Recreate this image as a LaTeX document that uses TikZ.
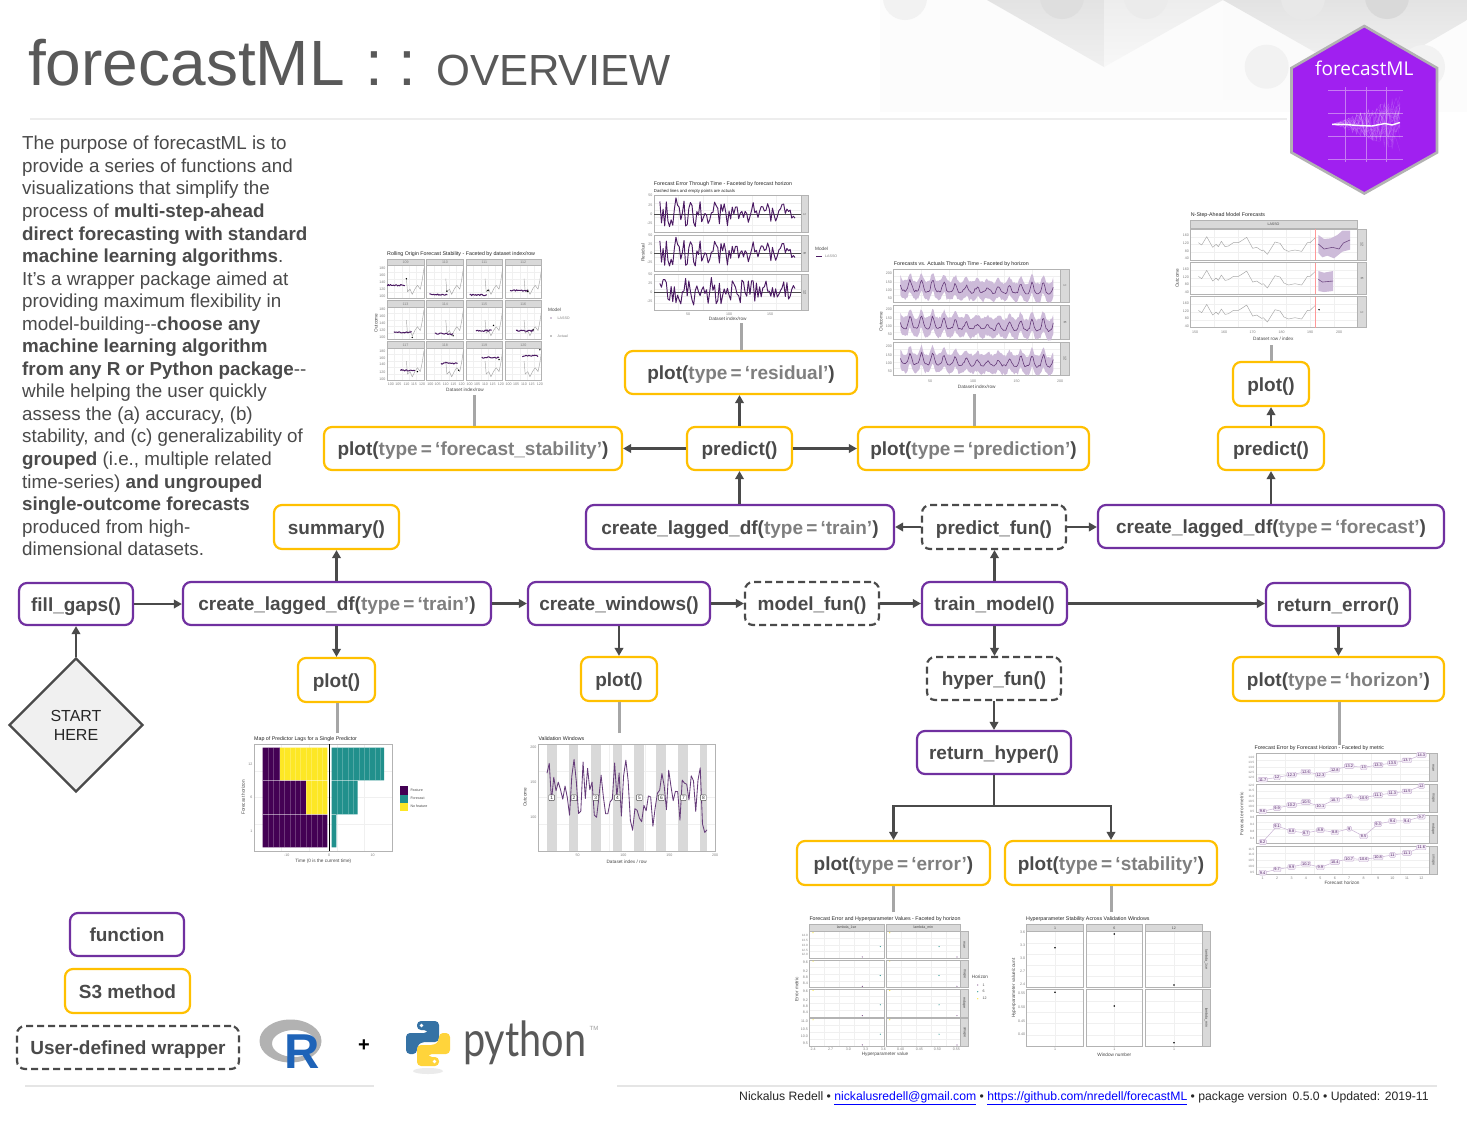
\documentclass[tikz,border=0pt]{standalone}
\usepackage{fontspec}
\setmainfont{Liberation Sans}
\newfontfamily\logofont{Open Sans}
\newfontfamily\pyfont{Lato}
\usetikzlibrary{arrows.meta,calc,shapes.geometric}
\definecolor{dark}{HTML}{4A4A4A}
\definecolor{titlec}{HTML}{595959}
\definecolor{midg}{HTML}{7F7F7F}
\definecolor{fnc}{HTML}{7030A0}
\definecolor{sthree}{HTML}{FFC000}
\definecolor{plum}{HTML}{4B1A63}
\definecolor{teal2}{HTML}{21908C}
\definecolor{vir}{HTML}{440154}
\definecolor{yel}{HTML}{FDE725}
\definecolor{stripc}{HTML}{D9D9D9}
\definecolor{bord}{HTML}{B3B3B3}
\definecolor{grdc}{HTML}{F0F0F0}
\definecolor{rib}{HTML}{CDBBD9}
\definecolor{hexc}{HTML}{A020F0}
\definecolor{hexg}{HTML}{C77CF2}
\definecolor{rblue}{HTML}{1E63B8}
\definecolor{pyblue}{HTML}{3572A5}
\definecolor{pyyel}{HTML}{FFD43B}
\definecolor{lilacb}{HTML}{C9B3D4}
\definecolor{lilacf}{HTML}{F3ECF6}
\newcounter{txc}
\newcommand{\tx}[4][]{\stepcounter{txc}\node[txt,#1] (tx\arabic{txc}) at ({#2},{#3}) {#4};}
\newcommand{\pnl}[6]{%
  \fill[white] (#1,#2) rectangle (#3,#4);
  \pgfmathsetmacro\pw{#3-#1}\pgfmathsetmacro\ph{#4-#2}
  \foreach \g in {1,...,#5}{\draw[grd] ({#1+\pw*\g/(#5+1)},#2) -- ({#1+\pw*\g/(#5+1)},#4);}
  \foreach \g in {1,...,#6}{\draw[grd] (#1,{#2+\ph*\g/(#6+1)}) -- (#3,{#2+\ph*\g/(#6+1)});}
  \draw[pb] (#1,#2) rectangle (#3,#4);}
\newcommand{\strp}[4]{\filldraw[fill=stripc,draw=bord,line width=.8pt] (#1,#2) rectangle (#3,#4);}
\newcommand{\inp}[5]{\pgfmathsetmacro\pw{#3-#1}\pgfmathsetmacro\ph{#4-#2}%
  \begin{scope}[shift={(#1,#2)},x=\pw pt,y=-\ph pt]#5\end{scope}}
\newcommand{\bbox}[7]{\node[#1,minimum width={(#5-#3)*1pt},minimum height={(#6-#4)*1pt}] (#2) at ({(#3+#5)/2},{(#4+#6)/2}) {#7};}
\newcommand{\gr}[1]{\textcolor{midg}{#1}}
\newcommand{\fsp}[8]{% x0, ystrip, label, a, b, level, dotx, doty
  \pgfmathsetmacro\xe{#1+36.7}\pgfmathsetmacro\ys{#2+6.4}\pgfmathsetmacro\yb{#2+39}
  \strp{#1}{#2}{\xe}{\ys}
  \tx[tck]{#1+18.3}{#2+3.2}{#3}
  \pnl{#1}{\ys}{\xe}{\yb}{4}{4}
  \inp{#1}{\ys}{\xe}{\yb}{%
    \draw[gline] plot coordinates {(.52,.4)(.55,.8)(.62,.72)(.68,.88)(.75,.72)(.82,.6)(.9,.72)(.95,.45)(1,.08)};
    \draw[plum,line width=1pt,line join=round] plot[domain=#4:#5,samples=18] (\x,{#6+.05*(rnd-.5)});
    \fill[black] (#7,#8) circle[radius=.8pt];}
}
\newcommand{\hzrow}[2]{%
  \foreach \v/\zy [count=\i,remember=\zy as \lz (initially 0)] in {#2}{%
    \ifnum\i>1 \draw[lilac] ({1230+(98+(\i-2)*43.27)/3},{740+\lz/3}) -- ({1230+(98+(\i-1)*43.27)/3},{740+\zy/3}); \fi}
  \foreach \v/\zy [count=\i] in {#2}{%
    \tx[hzl]{1230+(98+(\i-1)*43.27)/3}{740+\zy/3}{\v}}
}
\tikzset{
  txt/.style={inner sep=0pt,text=dark,font=\fontsize{4.6}{5.5}\selectfont},
  ttl/.style={anchor=west,text=black!85,font=\fontsize{5.3}{6}\selectfont},
  tck/.style={text=midg,font=\fontsize{3.6}{4.2}\selectfont},
  lab/.style={text=dark,font=\fontsize{4.7}{5.5}\selectfont},
  hzl/.style={draw=lilacb,fill=lilacf,rounded corners=1pt,inner xsep=1pt,inner ysep=1pt,text=plum,font=\fontsize{3.9}{4.5}\selectfont},
  grd/.style={draw=grdc,line width=.35pt},
  pb/.style={draw=bord,line width=.9pt},
  gline/.style={draw=black!35,line width=.45pt,line join=round},
  wig/.style={draw=plum,line width=.95pt,line join=round},
  lilac/.style={draw=lilacb,line width=.5pt},
  base/.style={rounded corners=8pt,draw,line width=2.2pt,fill=white,inner sep=0pt,text=dark,text height=17pt,text depth=3pt,font=\bfseries\fontsize{19}{23}\selectfont},
  fnbox/.style={base,draw=fnc},
  sbox/.style={base,draw=sthree},
  ubox/.style={base,draw=dark,dash pattern=on 7pt off 4pt},
  conn/.style={draw=dark,line width=2.6pt,-{Triangle[length=8pt,width=8.5pt]}},
  plainconn/.style={draw=dark,line width=2.6pt},
  gconn/.style={draw=black!35,line width=3pt},
}
\begin{document}
\begin{tikzpicture}[x=1pt,y=-1pt,declare function={sz(\t)=sin(\t*2700)*sin(\t*2700);}]
\useasboundingbox (0,0) rectangle (1467,1133);
\fill[white] (0,0) rectangle (1467,1133);
% ---------- background
\begin{scope}
\clip (0,0) rectangle (1467,1133);
\fill[black!1] (880,0) rectangle (1467,112);
\fill[black!1.5] (1223,0) rectangle (1320,100);
\shade[top color=black!11,bottom color=black!6] (987,0) -- (1104,67) -- (1104,0) -- cycle;
\shade[top color=black!7,bottom color=black!3] (1104,0) -- (1104,67) -- (1223,0) -- cycle;
\shade[top color=black!11,bottom color=black!4] (1223,0) -- (1364,80) -- (1467,20) -- (1467,0) -- cycle;
\fill[black!5] (905,-2) circle[radius=22];
\fill[black!13] (1062,-3) circle[radius=22];
\fill[black!8] (1146,-3) circle[radius=22];
\fill[black!5] (1266.7,66.7) circle[radius=22];
\fill[black!9] (1303,-2) circle[radius=22];
\fill[black!15] (1387,-3) circle[radius=22];
\fill[black!5] (1423,67) circle[radius=22];
\end{scope}
\draw[black!7,line width=2.5pt] (30,119) -- (1287,119);
\draw[black!10,line width=1.2pt] (25,1086) -- (374,1086);
\draw[black!10,line width=1.2pt] (617,1086) -- (1437,1086);
% ---------- title
\node[anchor=base west,inner sep=0pt,text=titlec,font=\fontsize{64}{70}\selectfont] (ttlA) at (28,85) {forecastML};
\node[anchor=base west,inner sep=0pt,text=titlec,font=\fontsize{64}{70}\selectfont] (ttlB) at (365,85) {:};
\node[anchor=base west,inner sep=0pt,text=titlec,font=\fontsize{64}{70}\selectfont] (ttlC) at (398,85) {:};
\node[anchor=base west,inner sep=0pt,text=titlec,font=\fontsize{43.6}{50}\selectfont] (ttlD) at (436,85) {OVERVIEW};
% ---------- intro
\node[anchor=north west,align=left,inner sep=0pt,text=dark,font=\fontsize{18.8}{22.55}\selectfont] (intro) at (22,136) {%
The purpose of forecastML is to\\
provide a series of functions and\\
visualizations that simplify the\\
process of \textbf{multi-step-ahead}\\
\textbf{direct forecasting with standard}\\
\textbf{machine learning algorithms}.\\
It's a wrapper package aimed at\\
providing maximum flexibility in\\
model-building-{}-\textbf{choose any}\\
\textbf{machine learning algorithm}\\
\textbf{from any R or Python package}-{}-\\
while helping the user quickly\\
assess the (a) accuracy, (b)\\
stability, and (c) generalizability of\\
\textbf{grouped} (i.e., multiple related\\
time-series) \textbf{and ungrouped}\\
\textbf{single-outcome forecasts}\\
produced from high-\\
dimensional datasets.};
% ---------- hex logo
\filldraw[fill=hexc,draw=black!30,line width=2.6pt] (1364.3,26) -- (1437,68) -- (1437,152.5) -- (1364.3,193.5) -- (1291.5,152.5) -- (1291.5,68) -- cycle;
\foreach \yy in {90,113.3,136,159}{\draw[hexg,line width=.7pt] (1328,\yy) -- (1403,\yy);}
\foreach \xx in {1345.7,1366,1386.7}{\draw[hexg,line width=.7pt] (\xx,87) -- (\xx,161.7);}
\pgfmathsetseed{11}
\foreach \i in {1,...,24}{\draw[white,opacity=.16,line width=.3pt] plot[domain=1333:1400,samples=18] (\x,{124.3+(\x-1333)*.85*(rnd-.5)});}
\draw[white,line width=1.4pt,line join=round] plot coordinates {(1332,124.3)(1345,124.5)(1358,125.5)(1372,126)(1385,123.5)(1392,125)(1400,122.5)};
\node[inner sep=0pt,text=white,font=\logofont\fontsize{19}{23}\selectfont] (hexname) at (1364.3,68) {forecastML};
% ---------- chart: forecast stability
\tx[ttl]{387}{254.5}{Rolling Origin Forecast Stability - Faceted by dataset index/row}
\pgfmathsetseed{5}
\fsp{387.3}{259.3}{109}{0}{.48}{.6}{.52}{.4}
\fsp{426.7}{259.3}{110}{.07}{.56}{.88}{.55}{.78}
\fsp{466}{259.3}{111}{.1}{.57}{.9}{.6}{.76}
\fsp{505}{259.3}{112}{.14}{.63}{.76}{.62}{.79}
\fsp{387.3}{300.7}{113}{.18}{.66}{.77}{.68}{.93}
\fsp{426.7}{300.7}{114}{.22}{.72}{.82}{.72}{.88}
\fsp{466}{300.7}{115}{.27}{.7}{.72}{.75}{.56}
\fsp{505}{300.7}{116}{.3}{.77}{.72}{.77}{.7}
\fsp{387.3}{341.7}{117}{.36}{.75}{.68}{.82}{.72}
\fsp{426.7}{341.7}{118}{.39}{.84}{.47}{.87}{.68}
\fsp{466}{341.7}{119}{.43}{.9}{.29}{.9}{.35}
\fsp{505}{341.7}{120}{.47}{.9}{.24}{.95}{.05}
\foreach \yt in {265.7,306.7,348.3}{\foreach \v/\f in {180/.08,160/.3,140/.5,120/.72,100/.95}{\tx[tck,anchor=east]{385.5}{\yt+\f*32.6}{\v}}}
\foreach \cx in {387.3,426.7,466,505}{\foreach \v/\f in {100/.1,105/.3,110/.52,115/.73,120/.95}{\tx[tck]{\cx+\f*36.7}{384.5}{\v}}}
\tx[lab]{465}{389.5}{Dataset index/row}
\tx[lab,rotate=90]{376}{323}{Outcome}
\tx[lab,anchor=west]{548}{310}{Model}
\fill[plum] (551,318) circle[radius=.7pt];
\tx[tck,anchor=west]{557.5}{318}{LASSO}
\fill[black] (551,336) circle[radius=.7pt];
\tx[tck,anchor=west]{557.5}{336}{Actual}
% ---------- chart: residual
\tx[ttl]{653.7}{184.3}{Forecast Error Through Time - Faceted by forecast horizon}
\tx[ttl,font=\fontsize{4.3}{5}\selectfont]{653.7}{191}{Dashed lines and empty points are actuals}
\foreach \ya/\yb/\lb/\sd in {195.7/232.3/1/21,235/271.7/6/21,274/310.7/12/22}{
  \strp{801}{\ya}{808.7}{\yb}
  \pnl{654}{\ya}{801}{\yb}{5}{4}
  \tx[tck,rotate=-90,text=dark]{804.8}{(\ya+\yb)/2}{\lb}
  \foreach \v/\f in {50/.0,25/.25,0/.5,-25/.75}{\tx[tck,anchor=east]{652.5}{\ya+\f*36.7}{\v}}
  \pgfmathsetseed{\sd}
  \inp{654}{\ya}{801}{\yb}{%
    \draw[black!70,line width=.4pt] (0,.5) -- (1,.5);
    \draw[wig] plot[domain=.04:.96,samples=85] (\x,{.47+(.95-.5*\x)*(rnd-.5)});}
}
\foreach \v/\xx in {50/688,100/729,150/770}{\tx[tck]{\xx}{314}{\v}}
\tx[lab]{727.7}{319.3}{Dataset index/row}
\tx[lab,rotate=90]{643}{252.7}{Residual}
\tx[lab,anchor=west]{815}{249}{Model}
\draw[plum,line width=.8pt] (816,256.7) -- (821.7,256.7);
\tx[tck,anchor=west]{825}{256.7}{LASSO}
% ---------- chart: predictions
\tx[ttl]{893.7}{263.7}{Forecasts vs. Actuals Through Time - Faceted by horizon}
\foreach \ya/\yb/\lb/\sd in {269.3/302/1/31,305.3/339.3/6/32,342.3/375/12/33}{
  \strp{1060}{\ya}{1069.7}{\yb}
  \pnl{893.7}{\ya}{1060}{\yb}{5}{4}
  \tx[tck,rotate=-90,text=dark]{1065}{(\ya+\yb)/2}{\lb}
  \foreach \v/\f in {200/.13,150/.38,100/.63,50/.88}{\tx[tck,anchor=east]{892}{\ya+\f*33}{\v}}
  \pgfmathsetseed{\sd}
  \inp{893.7}{\ya}{1060}{\yb}{%
    \fill[rib] plot[domain=.04:.96,samples=130] (\x,{.3-.24*sz(\x)*sz(\x)*(.75+.35*sin(\x*4900))+.1*\x+.09*rnd}) -- plot[domain=.96:.04,samples=130] (\x,{.86-.24*sz(\x)*sz(\x)*(.75+.35*sin(\x*4900))+.1*\x+.09*rnd}) -- cycle;
    \draw[plum!85,line width=.6pt,line join=round] plot[domain=.04:.96,samples=130] (\x,{.62-.32*sz(\x)*sz(\x)*(.75+.35*sin(\x*4900))+.1*\x+.07*rnd});}
}
\foreach \v/\xx in {50/930,100/973,150/1016.7,200/1060}{\tx[tck]{\xx}{381.5}{\v}}
\tx[lab]{976.7}{386.7}{Dataset index/row}
\tx[lab,rotate=90]{881}{321.7}{Outcome}
% ---------- chart: n-step
\tx[ttl]{1190.7}{214.7}{N-Step-Ahead Model Forecasts}
\strp{1190.7}{220.7}{1357.7}{228.7}
\tx[tck,text=dark]{1273.5}{224.7}{LASSO}
\foreach \ya/\yb/\lb in {229/260.3/12,262.7/294/6,296.7/327.7/1}{
  \strp{1357.7}{\ya}{1366.3}{\yb}
  \pnl{1190.7}{\ya}{1357.7}{\yb}{6}{3}
  \tx[tck,rotate=-90,text=dark]{1362}{(\ya+\yb)/2}{\lb}
  \foreach \v/\f in {160/.2,120/.45,80/.7,40/.95}{\tx[tck,anchor=east]{1189}{\ya+\f*31.3}{\v}}
  \begin{scope}[shift={(1190.7,\ya)},x=.3333pt,y=-.3333pt]
    \draw[gline] plot coordinates {(23,41)(33,48)(48,23)(66,55)(76,46)(83,53)(92,37)(103,53)(113,51)(128,41)(143,41)(153,35)(168,25)(186,58)(198,55)(213,65)(218,63)(230,76)(253,39)(268,43)(280,61)(293,67)(313,63)(333,67)(350,41)(358,41)(375,25)};
  \end{scope}
  \draw[red!40,line width=1.3pt] (1315.7,\ya) -- (1315.7,\yb);
}
\begin{scope}[shift={(1190.7,229)},x=.3333pt,y=-.3333pt]
  \fill[rib] (383,18) -- (400,30) -- (420,28) -- (440,18) -- (455,5) -- (478,5) -- (478,62) -- (455,68) -- (430,88) -- (410,80) -- (395,85) -- (383,72) -- cycle;
  \draw[plum!80,line width=.6pt] (383,45) -- (400,60) -- (425,55) -- (445,60) -- (458,42) -- (478,33);
\end{scope}
\begin{scope}[shift={(1190.7,262.7)},x=.3333pt,y=-.3333pt]
  \fill[rib] (383,25) -- (400,30) -- (427,25) -- (427,85) -- (400,88) -- (383,85) -- cycle;
  \draw[plum!80,line width=.6pt] (383,50) -- (395,58) -- (427,55);
\end{scope}
\fill[black] (1319,309.7) circle[radius=.8pt];
\foreach \v/\xx in {150/1195,160/1224,170/1252.7,180/1281.7,190/1310,200/1339}{\tx[tck]{\xx}{332.5}{\v}}
\tx[lab]{1273.3}{338.7}{Dataset row / index}
\tx[lab,rotate=90]{1177.3}{278.3}{Outcome}
% ---------- chart: lag map
\tx[ttl]{254}{738.7}{Map of Predictor Lags for a Single Predictor}
\pnl{254}{744}{392.3}{851}{4}{3}
\fill[vir] (262.7,747.7) rectangle (280,780.3) (262.7,780.3) rectangle (306,814.3) (262.7,814.3) rectangle (327.3,847.3);
\fill[yel] (280,747.7) rectangle (327.3,780.3) (306,780.3) rectangle (327.3,814.3);
\fill[teal2] (331.7,747.7) rectangle (384,780.3) (331.7,780.3) rectangle (357.7,814.3) (331.7,814.3) rectangle (336.3,847.3);
\foreach \k in {1,...,11}{\draw[white,opacity=.22,line width=.3pt] ({262.7+5.4*\k},747.7) -- ({262.7+5.4*\k},847.3);}
\foreach \k in {1,...,9}{\draw[white,opacity=.22,line width=.3pt] ({331.7+5.4*\k},747.7) -- ({331.7+5.4*\k},{\k>4?780.3:814.3});}
\draw[white,opacity=.5,line width=.4pt] (262.7,780.3) -- (357.7,780.3) (262.7,814.3) -- (336.3,814.3);
\draw[black,line width=1.6pt] (329.3,744) -- (329.3,851);
\foreach \v/\yy in {12/764,6/797.3,1/831.3}{\tx[tck,anchor=east]{252.5}{\yy}{\v}}
\foreach \v/\xx in {-10/286.7,0/329,10/372.7}{\tx[tck]{\xx}{855.7}{\v}}
\tx[lab]{323.3}{861.7}{Time (0 is the current time)}
\tx[lab,rotate=90]{243.3}{797.3}{Forecast horizon}
\fill[vir] (400,786.3) rectangle (408.3,794.7);
\fill[teal2] (400,794.7) rectangle (408.3,802.7);
\fill[yel] (400,802.7) rectangle (408.3,810.7);
\tx[tck,anchor=west,text=dark]{410.3}{790.5}{Feature}
\tx[tck,anchor=west,text=dark]{410.3}{798.7}{Forecast}
\tx[tck,anchor=west,text=dark]{410.3}{806.7}{No feature}
% ---------- chart: validation windows
\tx[ttl]{538.3}{738.7}{Validation Windows}
\pnl{538.3}{744}{715.7}{851}{4}{3}
\foreach \a/\b in {950/980,1017/1045,1082/1112,1148/1176,1213/1243,1279/1308,1345/1373,1410/1431}{\fill[stripc] ({230+\a/3},744.5) rectangle ({230+\b/3},850.5);}
\pgfmathsetseed{71}
\draw[plum!85,line width=.85pt,line join=round] plot[domain=547:707,samples=72] (\x,{792+62*(rnd-.5)-28*rnd*rnd*sz((\x-547)/160)+18*(\x-547)/160});
\foreach \n/\a in {1/965,2/1032,3/1097,4/1162,5/1228,6/1294,7/1360,8/1420}{\tx[draw=black!70,fill=white,rounded corners=.8pt,inner xsep=1.6pt,inner ysep=1.2pt,text=black!85,font=\fontsize{4.8}{5.2}\selectfont]{230+\a/3}{797.7}{\n}}
\foreach \v/\yy in {200/747.7,150/782.7,100/817.7}{\tx[tck,anchor=east]{536.5}{\yy}{\v}}
\foreach \v/\xx in {50/577.7,100/623.3,150/669.3,200/715}{\tx[tck]{\xx}{855.7}{\v}}
\tx[lab]{626.7}{861.7}{Dataset index / row}
\tx[lab,rotate=90]{525}{797.3}{Outcome}
% ---------- chart: error vs hyper
\tx[ttl]{809.3}{919.3}{Forecast Error and Hyperparameter Values - Faceted by horizon}
\strp{809.3}{924.3}{884}{931}
\strp{886}{924.3}{960.7}{931}
\tx[tck,text=dark]{846.6}{927.8}{lambda\_1se}
\tx[tck,text=dark]{923.3}{927.8}{lambda\_min}
\foreach \ya/\yb/\lb in {931.7/958.3/mae,960/987.7/mape,989.3/1017/mdape,1018.7/1046.3/smape}{
  \strp{960.7}{\ya}{968}{\yb}
  \tx[tck,rotate=-90,text=dark]{964.4}{(\ya+\yb)/2}{\lb}
  \pnl{809.3}{\ya}{884}{\yb}{4}{3}
  \pnl{886}{\ya}{960.7}{\yb}{4}{3}
  \inp{809.3}{\ya}{884}{\yb}{%
    \fill[yel] (.05,.04) circle[radius=.6pt];\fill[teal2] (.95,.56) circle[radius=.6pt];\fill[vir!70] (.71,.95) circle[radius=.6pt];}
  \inp{886}{\ya}{960.7}{\yb}{%
    \fill[yel] (.05,.04) circle[radius=.6pt];\fill[teal2] (.71,.56) circle[radius=.6pt];\fill[vir!70] (.95,.95) circle[radius=.6pt];}
}
\foreach \v/\yy in {14.0/935.3,13.5/940,13.0/945,12.5/950,12.0/954}{\tx[tck,anchor=east,font=\fontsize{3.1}{3.5}\selectfont]{808}{\yy}{\v}}
\foreach \v/\yy in {9.6/962,9.2/971,8.8/977,8.4/983}{\tx[tck,anchor=east]{808}{\yy}{\v}}
\foreach \v/\yy in {9.6/991.5,9.2/1000,8.8/1006,8.4/1012}{\tx[tck,anchor=east]{808}{\yy}{\v}}
\foreach \v/\yy in {11.0/1021,10.5/1029,10.0/1036,9.5/1043}{\tx[tck,anchor=east]{808}{\yy}{\v}}
\foreach \v/\xx in {2.4/813,2.7/830.7,3.0/848.3,3.3/865.7,3.6/883.3,0.40/900.7,0.45/919.3,0.50/937.3,0.55/956.3}{\tx[tck]{\xx}{1049.5}{\v}}
\tx[lab]{885}{1054.7}{Hyperparameter value}
\tx[lab,rotate=90]{796.7}{989.3}{Error metric}
\tx[lab]{980}{977.3}{Horizon}
\fill[vir!70] (977.7,985) circle[radius=.6pt];
\fill[teal2] (977.7,991.7) circle[radius=.6pt];
\fill[yel] (977.7,998.7) circle[radius=.6pt];
\tx[tck,anchor=west,text=dark]{982.5}{985}{1}
\tx[tck,anchor=west,text=dark]{982.5}{991.7}{6}
\tx[tck,anchor=west,text=dark]{982.5}{998.7}{12}
% ---------- chart: hyper stability
\tx[ttl]{1026}{919.3}{Hyperparameter Stability Across Validation Windows}
\foreach \a/\b/\lb in {1026.7/1083.7/1,1086/1142.7/6,1145.3/1202.3/12}{
  \strp{\a}{924.3}{\b}{931}
  \tx[tck,text=dark]{(\a+\b)/2}{927.8}{\lb}
  \pnl{\a}{931.7}{\b}{987.7}{1}{4}
  \pnl{\a}{989.7}{\b}{1046}{1}{4}
}
\strp{1202.3}{931.7}{1210}{987.7}
\strp{1202.3}{989.7}{1210}{1046}
\tx[tck,rotate=-90,text=dark]{1206.2}{959.7}{lambda\_1se}
\tx[tck,rotate=-90,text=dark]{1206.2}{1017.8}{lambda\_min}
\foreach \xx/\yy in {1055/947.7,1114.3/934,1174/985,1055/992.3,1114.3/1006,1174/1042.7}{\fill[black] (\xx,\yy) circle[radius=.9pt];}
\foreach \v/\yy in {3.6/932.3,3.3/945,3.0/958.3,2.7/971,2.4/984}{\tx[tck,anchor=east]{1025.3}{\yy}{\v}}
\foreach \v/\yy in {0.55/993,0.50/1007,0.45/1021,0.40/1034.7}{\tx[tck,anchor=east]{1025.3}{\yy}{\v}}
\foreach \xx in {1055,1114.3,1174}{\tx[tck]{\xx}{1049.5}{1}}
\tx[lab]{1114.3}{1054.7}{Window number}
\tx[lab,rotate=90]{1014}{988.3}{Hyperparameter value/count}
% ---------- chart: horizon error
\tx[ttl]{1254.3}{748}{Forecast Error by Forecast Horizon - Faceted by metric}
\foreach \ya/\yb/\lb in {753.3/781.7/mae,784/812.7/mape,815/843.7/mdape,846/874.7/smape}{
  \strp{1429}{\ya}{1437.3}{\yb}
  \pnl{1256}{\ya}{1429}{\yb}{5}{3}
  \tx[tck,rotate=-90,text=dark]{1433.2}{(\ya+\yb)/2}{\lb}
}
\hzrow{753}{11.7/119,12/112,12.3/104,12.6/95,12.3/104,12.8/89,13.2/78,13/82,13.3/75,13.5/69,13.7/61,14.3/45}
\hzrow{784}{9.6/214,9.9/204,10.2/195,10.5/186,10.1/199,10.7/179,11/170,10.9/173,11.1/165,11.3/159,11.5/154,12/138}
\hzrow{815}{8.2/306,9.1/258,8.8/273,8.7/279,8.9/270,8.8/277,9/266,8.5/289,9.3/252,9.4/243,9.4/242,9.7/230}
\hzrow{846}{9.4/398,9.7/388,9.9/381,10.2/371,9.9/382,10.4/366,10.7/356,10.6/358,10.8/352,11/345,11.1/339,11.6/322}
\foreach \v/\yy in {14.0/757,13.5/762,13.0/767,12.5/772,12.0/777, 12.0/785,11.5/790,11.0/796,10.5/801,10.0/806,9.5/811, 9.6/817,9.2/824,8.8/831,8.4/838, 11.5/849,11.0/854,10.5/860,10.0/866,9.5/872}{\tx[tck,anchor=east,font=\fontsize{3.1}{3.5}\selectfont]{1254.5}{\yy}{\v}}
\foreach \i in {1,...,12}{\tx[tck]{1230+(98+(\i-1)*43.27)/3}{878}{\i}}
\tx[lab]{1342}{883.3}{Forecast horizon}
\tx[lab,rotate=90]{1241.7}{814}{Forecast error metric}
% ---------- flow nodes
\node[diamond,aspect=1,draw=dark,line width=2.4pt,fill=black!6,inner sep=0pt,minimum width=134pt,minimum height=134pt,align=center,text=black!85,font=\fontsize{16}{19}\selectfont] (start) at (76,725) {START\\HERE};
\bbox{fnbox}{fillgaps}{19}{583}{133}{625}{fill\_gaps()}
\bbox{fnbox}{cldA}{183}{582}{491}{625}{create\_lagged\_df(\gr{type\,=\,‘train’})}
\bbox{fnbox}{windows}{528}{582}{710}{625}{create\_windows()}
\bbox{ubox}{modelfun}{745}{582}{879}{625}{model\_fun()}
\bbox{fnbox}{trainmodel}{922}{582}{1067}{625}{train\_model()}
\bbox{fnbox}{returnerror}{1266}{583}{1410}{626}{return\_error()}
\bbox{sbox}{summary}{274}{505}{399}{549}{summary()}
\bbox{sbox}{plotA}{298}{658}{375}{702}{plot()}
\bbox{sbox}{plotB}{581}{657}{657}{701}{plot()}
\bbox{ubox}{hyperfun}{927}{657}{1061}{700}{hyper\_fun()}
\bbox{sbox}{plothorizon}{1233}{657}{1444}{701}{plot(\gr{type\,=\,‘horizon’})}
\bbox{fnbox}{returnhyper}{917}{731}{1071}{774}{return\_hyper()}
\bbox{sbox}{ploterror}{797}{841}{990}{885}{plot(\gr{type\,=\,‘error’})}
\bbox{sbox}{plotstab}{1005}{841}{1217}{885}{plot(\gr{type\,=\,‘stability’})}
\bbox{fnbox}{cldB}{586}{505}{894}{549}{create\_lagged\_df(\gr{type\,=\,‘train’})}
\bbox{ubox}{predictfun}{922}{505}{1066}{549}{predict\_fun()}
\bbox{fnbox}{cldC}{1098}{505}{1444}{548}{create\_lagged\_df(\gr{type\,=\,‘forecast’})}
\bbox{sbox}{predictA}{687}{427}{792}{470}{predict()}
\bbox{sbox}{plotfs}{324}{427}{622}{470}{plot(\gr{type\,=\,‘forecast\_stability’})}
\bbox{sbox}{plotres}{625}{351}{857}{394}{plot(\gr{type\,=\,‘residual’})}
\bbox{sbox}{plotpred}{858}{427}{1089}{470}{plot(\gr{type\,=\,‘prediction’})}
\bbox{sbox}{predictB}{1218}{427}{1324}{470}{predict()}
\bbox{sbox}{plotC}{1233}{362}{1309}{406}{plot()}
\bbox{fnbox}{legfn}{70}{913}{184}{956}{function}
\bbox{sbox}{legs}{65}{969}{190}{1013}{S3 method}
\bbox{ubox}{legu}{17}{1026}{239}{1069}{User-defined wrapper}
% ---------- connectors
\coordinate (cfs) at (474,395);
\coordinate (cres) at (741,323);
\coordinate (cpred) at (974,394);
\coordinate (cnstep) at (1271,345);
\coordinate (clag) at (337,733);
\coordinate (cwin) at (619,733);
\coordinate (chor) at (1339,745);
\coordinate (cerr) at (893,912);
\coordinate (cstab) at (1111,912);
\coordinate (busy) at (0,806);
\coordinate (busn) at (returnhyper.south |- busy);
\draw[gconn] (cfs) -- (cfs |- plotfs.north);
\draw[gconn] (cres) -- (cres |- plotres.north);
\draw[gconn] (cpred) -- (cpred |- plotpred.north);
\draw[gconn] (cnstep) -- (cnstep |- plotC.north);
\draw[gconn] (clag) -- (clag |- plotA.south);
\draw[gconn] (cwin) -- (cwin |- plotB.south);
\draw[gconn] (chor) -- (chor |- plothorizon.south);
\draw[gconn] (cerr) -- (cerr |- ploterror.south);
\draw[gconn] (cstab) -- (cstab |- plotstab.south);
\draw[conn] (start.north) -- (fillgaps.south);
\draw[conn] (fillgaps.east) -- (fillgaps.east -| cldA.west);
\draw[conn] (cldA.east) -- (cldA.east -| windows.west);
\draw[conn] (windows.east) -- (windows.east -| modelfun.west);
\draw[conn] (modelfun.east) -- (modelfun.east -| trainmodel.west);
\draw[conn] (trainmodel.east) -- (trainmodel.east -| returnerror.west);
\draw[conn] (cldA.north -| summary.south) -- (summary.south);
\draw[conn] (cldA.south -| plotA.north) -- (plotA.north);
\draw[conn] (windows.south -| plotB.north) -- (plotB.north);
\draw[conn] (trainmodel.south) -- (trainmodel.south |- hyperfun.north);
\draw[conn] (hyperfun.south) -- (hyperfun.south |- returnhyper.north);
\draw[conn] (trainmodel.north) -- (trainmodel.north |- predictfun.south);
\draw[conn] (predictfun.west) -- (predictfun.west -| cldB.east);
\draw[conn] (predictfun.east) -- (predictfun.east -| cldC.west);
\draw[conn] (cldB.north -| predictA.south) -- (predictA.south);
\draw[conn] (predictA.west) -- (predictA.west -| plotfs.east);
\draw[conn] (predictA.east) -- (predictA.east -| plotpred.west);
\draw[conn] (predictA.north) -- (predictA.north |- plotres.south);
\draw[conn] (cldC.north -| predictB.south) -- (predictB.south);
\draw[conn] (predictB.north) -- (predictB.north |- plotC.south);
\draw[conn] (returnerror.south -| plothorizon.north) -- (plothorizon.north);
\draw[plainconn] (returnhyper.south) -- (busn);
\draw[conn] (busn) -| (ploterror.north);
\draw[conn] (busn) -| (plotstab.north);
% ---------- logos
\fill[even odd rule,black!30] (290.5,1041) ellipse[x radius=31,y radius=21.5] (294,1043.5) ellipse[x radius=22,y radius=13.5];
\node[inner sep=0pt,anchor=base,text=rblue,font=\bfseries\fontsize{49}{50}\selectfont] (rletter) at (302,1068) {R};
\node[inner sep=0pt,text=black,font=\bfseries\fontsize{20}{24}\selectfont] (plus) at (364,1046) {+};
\fill[black!8] (428,1071) ellipse[x radius=15,y radius=3];
\fill[pyblue,rounded corners=4pt] (417,1021) -- (439,1021) -- (439,1042) -- (421,1042) -- (417,1046) -- (417,1054) -- (406,1054) -- (406,1033) -- (428,1033) -- (428,1030) -- (417,1030) -- cycle;
\fill[pyyel,rounded corners=4pt] (439,1066) -- (417,1066) -- (417,1045) -- (435,1045) -- (439,1041) -- (439,1033) -- (450,1033) -- (450,1054) -- (428,1054) -- (428,1057) -- (439,1057) -- cycle;
\fill[white] (421.5,1025.5) circle[radius=1.8pt];
\fill[white] (434.5,1061.5) circle[radius=1.8pt];
\node[inner sep=0pt,anchor=north west,text=titlec,font=\pyfont] (pyword) at (463,1021) {\resizebox*{123pt}{44pt}{python}};
\node[inner sep=0pt,text=black!40,font=\fontsize{6}{7}\selectfont] (tm) at (594,1028) {TM};
% ---------- footer
\node[anchor=west,inner sep=0pt,text=black!85,font=\fontsize{12.2}{14}\selectfont] (footer) at (739,1098) {Nickalus Redell • \textcolor{blue}{\underline{nickalusredell@gmail.com}} • \textcolor{blue}{\underline{https://github.com/nredell/forecastML}} • package version\hspace*{2pt} 0.5.0 • Updated: 2019-11};
\end{tikzpicture}
\end{document}
